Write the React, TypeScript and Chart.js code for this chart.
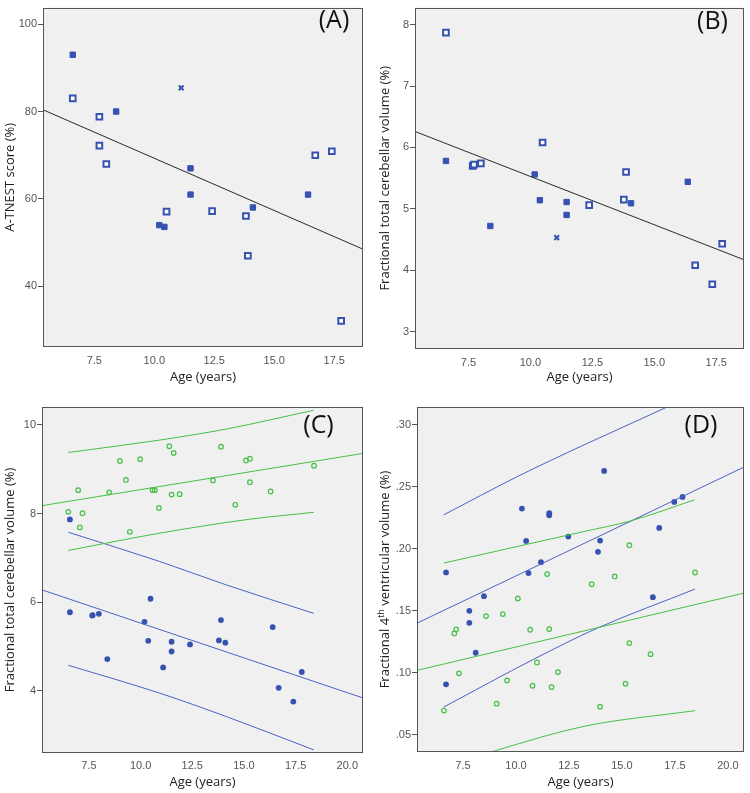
import React, { useEffect, useRef } from "react";
import { Chart, registerables } from "chart.js";
Chart.register(...registerables);

// ---------------- Panel A : A-TNEST score ----------------
const ageA_filled = [6.6, 8.41, 10.21, 10.42, 11.51, 11.51, 14.11, 16.41];
const scoreA_filled = [93, 80, 54, 53.6, 67, 61, 58.05, 61];
const ageA_open = [6.6, 7.71, 7.71, 8.0, 10.51, 12.41, 13.82, 13.9, 16.71, 17.4, 17.79];
const scoreA_open = [83, 78.8, 72.2, 68.0, 57.1, 57.2, 56.1, 47.0, 70.0, 70.9, 32.1];
const ageA_cross = [11.12];
const scoreA_cross = [85.4];
const fitA_x = [5.36, 18.7];
const fitA_y = [80.4, 48.5];

// ---------------- Panel B : cerebellar volume (patients) ----------------
const ageB_filled = [6.59, 8.38, 10.17, 10.38, 11.46, 11.46, 14.06, 16.35];
const volB_filled = [5.78, 4.72, 5.56, 5.14, 5.11, 4.9, 5.09, 5.44];
const ageB_open = [6.59, 7.67, 7.72, 8.0, 10.49, 12.37, 13.77, 13.86, 16.65, 17.34, 17.74];
const volB_open = [7.87, 5.7, 5.72, 5.74, 6.08, 5.06, 5.15, 5.6, 4.08, 3.77, 4.43];
const ageB_cross = [11.06];
const volB_cross = [4.53];
const fitB_x = [5.34, 18.62];
const fitB_y = [6.26, 4.17];

// ---------------- Panel C : cerebellar volume, patients vs controls ----------------
const ageC_patients = [6.58, 6.58, 7.66, 7.68, 7.98, 8.39, 10.19, 10.37, 10.48, 11.09, 11.5, 11.5, 12.39, 13.79, 13.89, 14.1, 16.39, 16.68, 17.39, 17.8];
const volC_patients = [7.87, 5.775, 5.7, 5.71, 5.74, 4.72, 5.56, 5.13, 6.08, 4.53, 5.11, 4.89, 5.05, 5.14, 5.6, 5.09, 5.44, 4.07, 3.76, 4.43];
const ageC_controls = [6.5, 6.98, 7.06, 7.19, 8.48, 9.0, 9.29, 9.48, 9.98, 10.58, 10.69, 10.89, 11.39, 11.5, 11.6, 11.89, 13.5, 13.89, 14.58, 15.1, 15.29, 15.29, 16.29, 18.39];
const volC_controls = [8.04, 8.53, 7.69, 8.01, 8.48, 9.19, 8.76, 7.59, 9.23, 8.53, 8.53, 8.13, 9.52, 8.43, 9.37, 8.44, 8.75, 9.51, 8.2, 9.2, 9.24, 8.71, 8.5, 9.08];
const fitC_pat_x = [5.23, 20.77];
const fitC_pat_y = [6.28, 3.84];
const upC_pat_x = [6.5, 10.93, 14.16, 18.38];
const upC_pat_y = [7.58, 6.92, 6.39, 5.75];
const loC_pat_x = [6.5, 10.93, 14.16, 18.38];
const loC_pat_y = [4.58, 3.95, 3.42, 2.67];
const fitC_con_x = [5.23, 20.77];
const fitC_con_y = [8.18, 9.36];
const upC_con_x = [6.5, 10.93, 14.16, 18.35];
const upC_con_y = [9.38, 9.66, 9.91, 10.33];
const loC_con_x = [6.5, 10.93, 15.21, 18.38];
const loC_con_y = [7.17, 7.56, 7.87, 8.03];

// ---------------- Panel D : 4th ventricular volume ----------------
const ageD_patients = [6.7, 6.7, 7.8, 7.8, 8.1, 8.49, 10.28, 10.48, 10.59, 11.18, 11.57, 11.57, 12.47, 13.87, 13.97, 14.16, 16.46, 16.76, 17.47, 17.86];
const volD_patients = [0.181, 0.0906, 0.15, 0.1403, 0.1161, 0.1618, 0.2325, 0.2064, 0.1804, 0.1892, 0.2288, 0.2271, 0.2099, 0.1976, 0.2067, 0.2629, 0.161, 0.2169, 0.2379, 0.2419];
const ageD_controls = [6.6, 7.09, 7.18, 7.31, 8.59, 9.09, 9.38, 9.58, 10.09, 10.67, 10.78, 10.99, 11.47, 11.57, 11.68, 11.98, 13.57, 13.97, 14.66, 15.17, 15.35, 15.35, 16.35, 18.45];
const volD_controls = [0.0694, 0.1317, 0.135, 0.0995, 0.1457, 0.075, 0.1473, 0.0938, 0.16, 0.1347, 0.0895, 0.1083, 0.1796, 0.1352, 0.0884, 0.1005, 0.1714, 0.0726, 0.1777, 0.0911, 0.2029, 0.1239, 0.115, 0.1809];
const fitD_pat_x = [5.33, 20.76];
const fitD_pat_y = [0.14, 0.266];
const upD_pat_x = [6.59, 10.06, 13.21, 17.07, 18.42];
const upD_pat_y = [0.2274, 0.2583, 0.2839, 0.314, 0.325];
const loD_pat_x = [6.59, 10.85, 13.84, 18.45];
const loD_pat_y = [0.0723, 0.111, 0.136, 0.1675];
const fitD_con_x = [5.33, 20.76];
const fitD_con_y = [0.1019, 0.1643];
const upD_con_x = [6.59, 10.06, 13.21, 15.42, 18.42];
const upD_con_y = [0.1885, 0.2019, 0.214, 0.2226, 0.2395];
const loD_con_x = [6.59, 9.03, 13.21, 18.45];
const loD_con_y = [0.024, 0.0371, 0.0567, 0.0694];

// ---------------- Ticks & labels ----------------
const xTicksAB = [7.5, 10, 12.5, 15, 17.5];
const xTicksCD = [7.5, 10, 12.5, 15, 17.5, 20];
const yTicksA = [40, 60, 80, 100];
const yTicksB = [3, 4, 5, 6, 7, 8];
const yTicksC = [4, 6, 8, 10];
const yTicksD = [0.05, 0.1, 0.15, 0.2, 0.25, 0.3];
const xTitle = "Age (years)";
const yTitleA = [{ t: "A-TNEST score (%)" }];
const yTitleBC = [{ t: "Fractional total cerebellar volume (%)" }];
const yTitleD = [{ t: "Fractional 4" }, { t: "th", sup: true }, { t: " ventricular volume (%)" }];

const BLUE = "#3652b0";
const LBLUE = "#4b63c6";
const GREEN = "#46c046";
const BLACK = "#2a2a2a";
const FONT = "'Open Sans', 'Noto Sans', sans-serif";
const TICKFONT = "'Liberation Sans', Arial, sans-serif";

const pts = (xs: number[], ys: number[]) => xs.map((x, i) => ({ x, y: ys[i] }));

function filledSq(xs: number[], ys: number[]) {
  return { data: pts(xs, ys), pointStyle: "rect", pointRadius: 3.8, backgroundColor: BLUE, borderColor: BLUE, borderWidth: 1, showLine: false };
}
function openSq(xs: number[], ys: number[]) {
  return { data: pts(xs, ys), pointStyle: "rect", pointRadius: 4, backgroundColor: "#ffffff", borderColor: BLUE, borderWidth: 2, showLine: false };
}
function cross(xs: number[], ys: number[]) {
  return { data: pts(xs, ys), pointStyle: "crossRot", pointRadius: 3.4, backgroundColor: BLUE, borderColor: BLUE, borderWidth: 2, showLine: false };
}
function dot(xs: number[], ys: number[]) {
  return { data: pts(xs, ys), pointStyle: "circle", pointRadius: 2.9, backgroundColor: BLUE, borderColor: BLUE, borderWidth: 0, showLine: false };
}
function ring(xs: number[], ys: number[]) {
  return { data: pts(xs, ys), pointStyle: "circle", pointRadius: 2.3, backgroundColor: "rgba(0,0,0,0)", borderColor: GREEN, borderWidth: 1.2, showLine: false };
}
function line(xs: number[], ys: number[], color: string, curve = false) {
  return {
    data: pts(xs, ys), showLine: true, pointRadius: 0, borderColor: color, borderWidth: 1,
    backgroundColor: color, fill: false,
    tension: curve ? 0.4 : 0, cubicInterpolationMode: curve ? "monotone" : "default",
  };
}

const decorPlugin = {
  id: "decor",
  beforeDraw(chart: any, _a: any, o: any) {
    const { ctx, chartArea: a } = chart;
    ctx.save();
    ctx.fillStyle = "#ffffff";
    ctx.fillRect(0, 0, chart.width, chart.height);
    ctx.fillStyle = "#f0f0f0";
    ctx.fillRect(a.left, a.top, a.right - a.left, a.bottom - a.top);
    ctx.restore();
  },
  afterDraw(chart: any, _a: any, o: any) {
    const { ctx, chartArea: a } = chart;
    ctx.save();
    ctx.strokeStyle = "#555555";
    ctx.lineWidth = 1;
    ctx.strokeRect(Math.round(a.left) + 0.5, Math.round(a.top) + 0.5, Math.round(a.right - a.left) - 1, Math.round(a.bottom - a.top) - 1);
    // panel letter
    ctx.fillStyle = "#111111";
    ctx.font = `25px ${FONT}`;
    ctx.textAlign = "center";
    ctx.textBaseline = "middle";
    ctx.fillText(o.letter, o.letterX, o.letterY);
    // y title with optional superscript
    const parts = o.yTitle as { t: string; sup?: boolean }[];
    const normal = `13px ${FONT}`;
    const small = `9px ${FONT}`;
    let total = 0;
    const widths = parts.map((p) => {
      ctx.font = p.sup ? small : normal;
      const w = ctx.measureText(p.t).width;
      total += w;
      return w;
    });
    ctx.translate(o.yTitleX, (a.top + a.bottom) / 2);
    ctx.rotate(-Math.PI / 2);
    ctx.fillStyle = "#222222";
    ctx.textAlign = "left";
    ctx.textBaseline = "middle";
    let x = -total / 2;
    parts.forEach((p, i) => {
      ctx.font = p.sup ? small : normal;
      ctx.fillText(p.t, x, p.sup ? -4 : 0);
      x += widths[i];
    });
    ctx.restore();
  },
};

type PanelDef = {
  key: string; left: number; top: number; w: number; h: number;
  plot: { l: number; r: number; t: number; b: number };
  xMin: number; xMax: number; yMin: number; yMax: number;
  xTicks: number[]; yTicks: number[]; yFmt: (v: number) => string;
  yTitle: { t: string; sup?: boolean }[]; letter: string; letterX: number; letterY: number;
  xTickPad: number; xTitlePad: number; datasets: any[];
};

const panels: PanelDef[] = [
  {
    key: "A", left: 0, top: 0, w: 375, h: 393, plot: { l: 43, r: 363, t: 4, b: 347 },
    xMin: 5.36, xMax: 18.7, yMin: 26.12, yMax: 103.78, xTicks: xTicksAB, yTicks: yTicksA,
    yFmt: (v) => String(v), yTitle: yTitleA, letter: "(A)", letterX: 334, letterY: 21,
    xTickPad: 7, xTitlePad: 8,
    datasets: [
      line(fitA_x, fitA_y, BLACK),
      filledSq(ageA_filled, scoreA_filled),
      openSq(ageA_open, scoreA_open),
      cross(ageA_cross, scoreA_cross),
    ],
  },
  {
    key: "B", left: 375, top: 0, w: 375, h: 393, plot: { l: 415, r: 746, t: 4, b: 349 },
    xMin: 5.34, xMax: 18.62, yMin: 2.715, yMax: 8.279, xTicks: xTicksAB, yTicks: yTicksB,
    yFmt: (v) => String(v), yTitle: yTitleBC, letter: "(B)", letterX: 337.5, letterY: 22,
    xTickPad: 7, xTitlePad: 8,
    datasets: [
      line(fitB_x, fitB_y, BLACK),
      filledSq(ageB_filled, volB_filled),
      openSq(ageB_open, volB_open),
      cross(ageB_cross, volB_cross),
    ],
  },
  {
    key: "C", left: 0, top: 393, w: 375, h: 400, plot: { l: 42, r: 363, t: 407, b: 753 },
    xMin: 5.23, xMax: 20.76, yMin: 2.6, yMax: 10.406, xTicks: xTicksCD, yTicks: yTicksC,
    yFmt: (v) => String(v), yTitle: yTitleBC, letter: "(C)", letterX: 318.5, letterY: 33,
    xTickPad: 6, xTitlePad: 3,
    datasets: [
      line(fitC_con_x, fitC_con_y, GREEN),
      line(upC_con_x, upC_con_y, GREEN, true),
      line(loC_con_x, loC_con_y, GREEN, true),
      line(fitC_pat_x, fitC_pat_y, LBLUE),
      line(upC_pat_x, upC_pat_y, LBLUE, true),
      line(loC_pat_x, loC_pat_y, LBLUE, true),
      ring(ageC_controls, volC_controls),
      dot(ageC_patients, volC_patients),
    ],
  },
  {
    key: "D", left: 375, top: 393, w: 375, h: 400, plot: { l: 417, r: 744, t: 407, b: 752 },
    xMin: 5.33, xMax: 20.76, yMin: 0.036, yMax: 0.3145, xTicks: xTicksCD, yTicks: yTicksD,
    yFmt: (v) => v.toFixed(2).replace(/^0/, ""), yTitle: yTitleD, letter: "(D)", letterX: 326, letterY: 33,
    xTickPad: 7, xTitlePad: 3,
    datasets: [
      line(fitD_con_x, fitD_con_y, GREEN),
      line(upD_con_x, upD_con_y, GREEN, true),
      line(loD_con_x, loD_con_y, GREEN, true),
      line(fitD_pat_x, fitD_pat_y, LBLUE),
      line(upD_pat_x, upD_pat_y, LBLUE, true),
      line(loD_pat_x, loD_pat_y, LBLUE, true),
      ring(ageD_controls, volD_controls),
      dot(ageD_patients, volD_patients),
    ],
  },
];

function Panel({ p }: { p: PanelDef }) {
  const ref = useRef<HTMLCanvasElement | null>(null);
  useEffect(() => {
    if (!ref.current) return;
    const yW = p.plot.l - p.left;
    const xH = p.top + p.h - p.plot.b;
    const chart = new Chart(ref.current, {
      type: "scatter",
      data: { datasets: p.datasets.map((d) => ({ ...d })) },
      plugins: [decorPlugin],
      options: {
        responsive: false,
        animation: false,
        devicePixelRatio: 1,
        events: [],
        layout: { padding: { left: 0, top: p.plot.t - p.top, right: p.left + p.w - p.plot.r, bottom: 0 } },
        plugins: {
          legend: { display: false },
          tooltip: { enabled: false },
          decor: { letter: p.letter, letterX: p.letterX, letterY: p.letterY, yTitle: p.yTitle, yTitleX: 10 },
        } as any,
        scales: {
          x: {
            type: "linear", position: "bottom", min: p.xMin, max: p.xMax,
            grid: { display: false, drawTicks: false },
            border: { display: false },
            ticks: {
              padding: p.xTickPad, color: "#555555", font: { family: TICKFONT, size: 11 },
              callback: (v: any) => Number(v).toFixed(1), maxRotation: 0, autoSkip: false,
            },
            title: { display: true, text: xTitle, color: "#222222", font: { family: FONT, size: 13 }, padding: { top: 0, bottom: p.xTitlePad } },
            afterBuildTicks: (s: any) => { s.ticks = p.xTicks.map((v) => ({ value: v })); },
            afterFit: (s: any) => { s.height = xH; },
          },
          y: {
            type: "linear", position: "left", min: p.yMin, max: p.yMax,
            grid: { display: true, drawOnChartArea: false, drawTicks: true, tickLength: 5, tickColor: "#555555", color: "#555555" },
            border: { display: false },
            ticks: {
              padding: 1, color: "#555555", font: { family: TICKFONT, size: 11 },
              callback: (v: any) => p.yFmt(Number(v)), autoSkip: false,
            },
            title: { display: false },
            afterBuildTicks: (s: any) => { s.ticks = p.yTicks.map((v) => ({ value: v })); },
            afterFit: (s: any) => { s.width = yW; },
          },
        },
      } as any,
    });
    return () => chart.destroy();
  }, [p]);
  return (
    <div style={{ position: "absolute", left: p.left, top: p.top, width: p.w, height: p.h }}>
      <canvas ref={ref} width={p.w} height={p.h} style={{ width: p.w, height: p.h, display: "block" }} />
    </div>
  );
}

export default function App() {
  return (
    <div style={{ position: "absolute", left: 0, top: 0, width: 750, height: 793, background: "#ffffff", overflow: "hidden" }}>
      {panels.map((p) => (
        <Panel key={p.key} p={p} />
      ))}
    </div>
  );
}
